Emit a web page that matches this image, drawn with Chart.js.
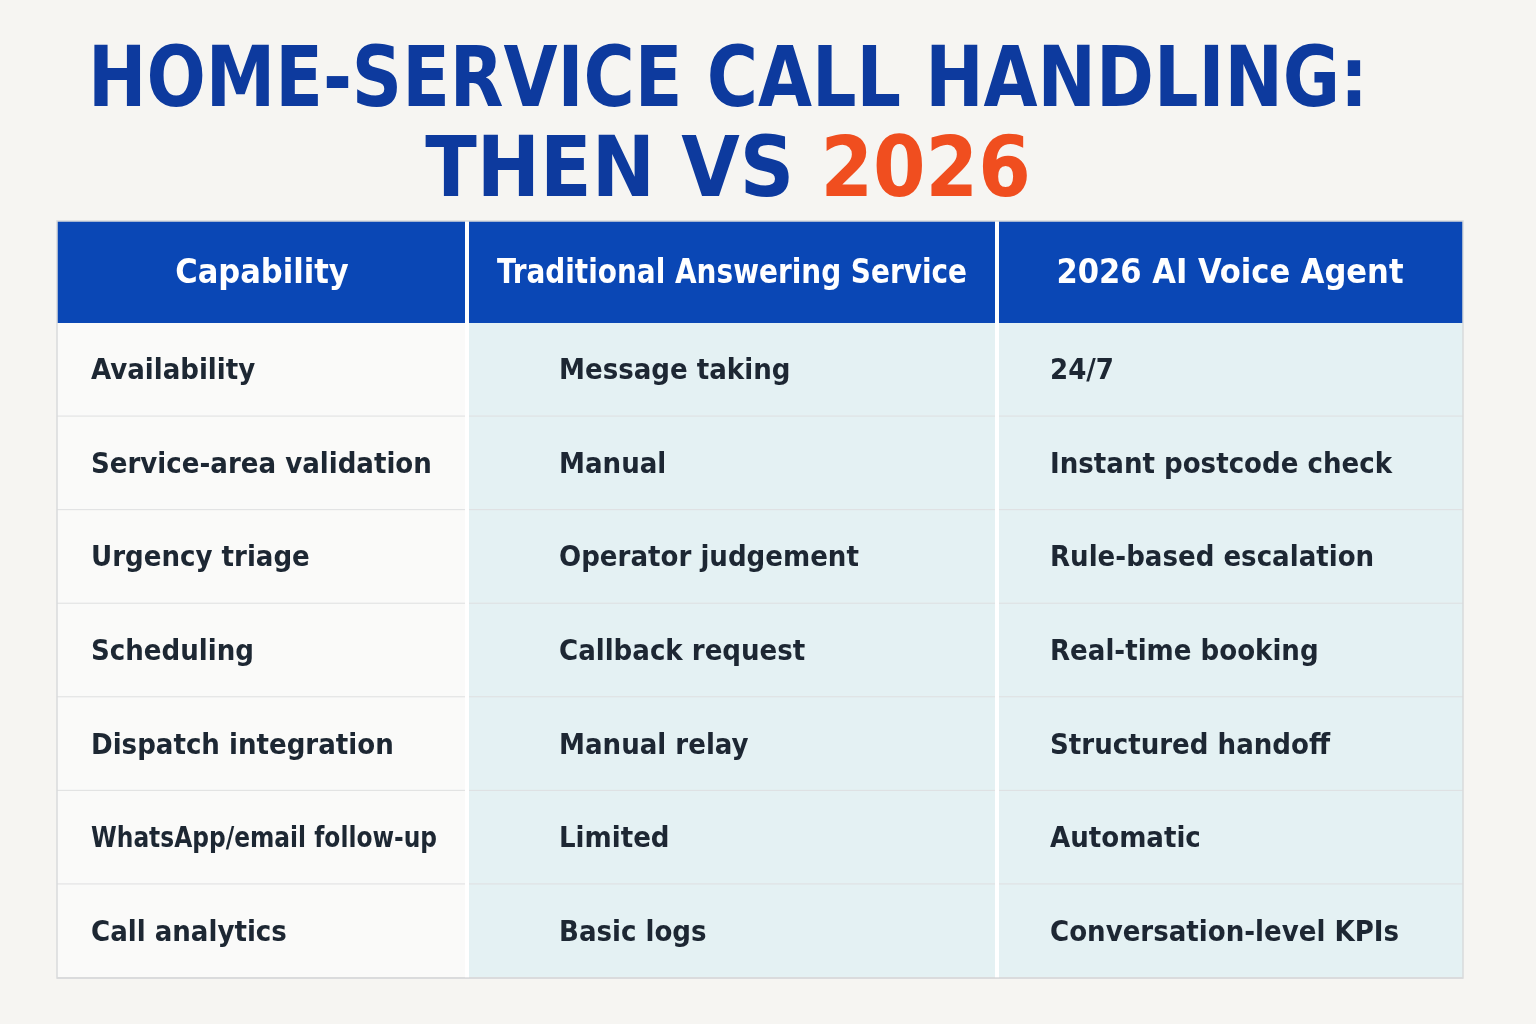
<!DOCTYPE html>
<html><head><meta charset="utf-8">
<script src="https://cdn.jsdelivr.net/npm/chart.js@4.4.1/dist/chart.umd.min.js"></script>
<style>
html,body{margin:0;padding:0;background:#f6f5f2}
#wrap{width:1536px;height:1024px;position:relative}
</style></head>
<body><div id="wrap"><canvas id="c"></canvas></div>
<script>
const titleLine1 = 'HOME-SERVICE CALL HANDLING:'
const titleLine2 = ['THEN VS ', '2026']
const headers = ['Capability', 'Traditional Answering Service', '2026 AI Voice Agent']
const capabilities = ['Availability', 'Service-area validation', 'Urgency triage', 'Scheduling', 'Dispatch integration', 'WhatsApp/email follow-up', 'Call analytics']
const traditional = ['Message taking', 'Manual', 'Operator judgement', 'Callback request', 'Manual relay', 'Limited', 'Basic logs']
const aiAgent = ['24/7', 'Instant postcode check', 'Rule-based escalation', 'Real-time booking', 'Structured handoff', 'Automatic', 'Conversation-level KPIs']
// column edges in table units
const colEdges = [0, 410, 940, 1406]
// row edges in table units (header is a bit taller)
const rowEdges = [0, 1.09, 2.09, 3.09, 4.09, 5.09, 6.09, 7.09, 8.09]

const FONT = '"DejaVu Sans Condensed", "Liberation Sans Narrow", "Roboto", sans-serif'

const tablePlugin = {
  id: 'table',
  beforeDraw(chart) {
    const { ctx, scales: { x, y } } = chart
    ctx.save()
    // title
    ctx.textAlign = 'center'
    ctx.textBaseline = 'alphabetic'
    ctx.font = `bold 84px ${FONT}`
    ctx.fillStyle = '#0d3a9e'
    ctx.fillText(titleLine1, 728, 106, 1280)
    const w1 = ctx.measureText(titleLine2[0]).width
    const w2 = ctx.measureText(titleLine2[1]).width
    const sx = 728 - (w1 + w2) / 2
    ctx.textAlign = 'left'
    ctx.fillText(titleLine2[0], sx, 196)
    ctx.fillStyle = '#f04e1f'
    ctx.fillText(titleLine2[1], sx + w1, 196)

    const rows = [headers, ...capabilities.map((c, i) => [c, traditional[i], aiAgent[i]])]
    const x0 = x.getPixelForValue(colEdges[0]), x3 = x.getPixelForValue(colEdges[3])
    rows.forEach((row, r) => {
      const top = y.getPixelForValue(rowEdges[r]), bot = y.getPixelForValue(rowEdges[r + 1])
      row.forEach((txt, c) => {
        const l = x.getPixelForValue(colEdges[c]), rr = x.getPixelForValue(colEdges[c + 1])
        ctx.fillStyle = r === 0 ? '#0a47b5' : (c === 0 ? '#fafaf9' : '#e4f1f3')
        ctx.fillRect(l, top, rr - l, bot - top)
        ctx.textBaseline = 'middle'
        if (r === 0) {
          ctx.fillStyle = '#ffffff'
          ctx.font = `bold 34px ${FONT}`
          ctx.textAlign = 'center'
          ctx.fillText(txt, (l + rr) / 2, (top + bot) / 2 + 2, rr - l - 60)
        } else {
          ctx.fillStyle = '#1d2733'
          ctx.font = `bold 29px ${FONT}`
          ctx.textAlign = 'left'
          const pad = c === 1 ? 92 : (c === 2 ? 53 : 34)
          ctx.fillText(txt, l + pad, (top + bot) / 2 + 2, rr - l - pad - 30)
        }
      })
      if (r > 0) {
        ctx.fillStyle = '#dedfe0'
        ctx.fillRect(x0, bot - 1, x3 - x0, 2)
      }
    })
    // column separators
    const tTop = y.getPixelForValue(rowEdges[0]), tBot = y.getPixelForValue(rowEdges[rows.length])
    ctx.fillStyle = '#ffffff'
    for (let c = 1; c < 3; c++) {
      const px = x.getPixelForValue(colEdges[c])
      ctx.fillRect(px - 2, tTop, 4, tBot - tTop)
    }
    ctx.strokeStyle = '#d9dadb'
    ctx.lineWidth = 1.5
    ctx.strokeRect(x0, tTop, x3 - x0, tBot - tTop)
    ctx.restore()
  }
}

new Chart(document.getElementById('c'), {
  type: 'scatter',
  data: { datasets: [{ data: [] }] },
  options: {
    responsive: true,
    maintainAspectRatio: false,
    animation: false,
    layout: { padding: { left: 57, right: 73, top: 221, bottom: 46 } },
    plugins: { legend: { display: false }, tooltip: { enabled: false } },
    scales: {
      x: { type: 'linear', min: colEdges[0], max: colEdges[3], display: false },
      y: { type: 'linear', min: rowEdges[0], max: rowEdges[rowEdges.length - 1], reverse: true, display: false }
    }
  },
  plugins: [tablePlugin]
})
</script>
</body></html>
